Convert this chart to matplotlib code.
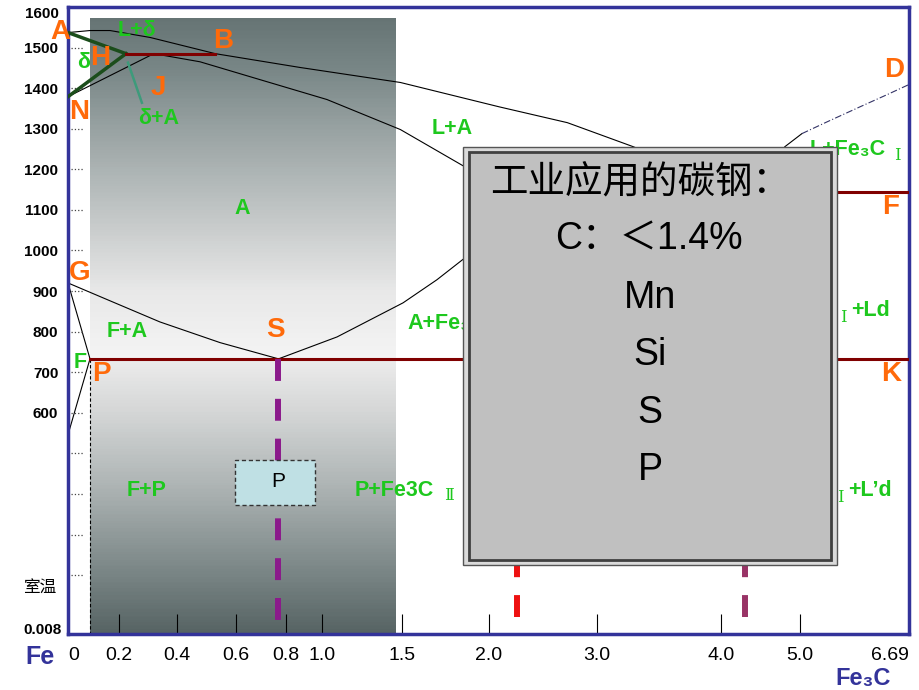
import numpy as np
import matplotlib
matplotlib.use('Agg')
import matplotlib.pyplot as plt
from matplotlib.patches import Rectangle
from matplotlib.colors import LinearSegmentedColormap
from matplotlib.transforms import blended_transform_factory

plt.rcParams['font.family'] = ['Liberation Sans', 'DejaVu Sans', 'Noto Sans CJK SC']

# the carbon axis on the slide is not to scale: tick columns
AXIS_C = [0, 0.0218, 0.2, 0.4, 0.6, 0.8, 1.0, 1.5, 2.0, 2.11, 3.0, 4.0, 5.0, 6.69]
AXIS_PX = [68, 90, 119, 177, 236, 286, 322, 402, 489, 517, 597, 721, 800, 909]

X_TICKS = [0, 0.2, 0.4, 0.6, 0.8, 1.0, 1.5, 2.0, 3.0, 4.0, 5.0, 6.69]
X_LABELS = ['0', '0.2', '0.4', '0.6', '0.8', '1.0', '1.5', '2.0', '3.0', '4.0', '5.0', '6.69']
Y_TICKS = [1500, 1400, 1300, 1200, 1100, 1000, 900, 800, 700, 600]
Y_DOTS = [1500, 1400, 1300, 1200, 1100, 1000, 900, 800, 700, 600, 500, 400, 300, 200]

# phase lines (C %, T)
liq_c = [0, 0.0218, 0.145, 0.307, 0.53, 0.878, 1.49, 2.04, 2.67, 3.29, 4.3, 4.81, 5.03]
liq_t = [1537, 1542, 1542, 1525, 1485, 1451, 1414, 1354, 1315, 1256, 1145, 1256, 1288]
cd_c = [5.03, 5.42, 5.93, 6.35, 6.69]
cd_t = [1288, 1317, 1354, 1384, 1409]
ah_c, ah_t = [0, 0.224], [1537, 1485]
nh_c, nh_t = [0, 0.224], [1379, 1485]
nj_c, nj_t = [0, 0.32], [1379, 1485]
je_c = [0.32, 0.478, 0.696, 1.031, 1.49, 1.862, 2.11]
je_t = [1485, 1465, 1421, 1372, 1298, 1206, 1145]
hjb_c, hjb_t = [0.224, 0.53], [1485, 1485]
gs_c = [0, 0.145, 0.341, 0.546, 0.77]
gs_t = [920, 876, 824, 773, 733]
gp_c, gp_t = [0, 0.0218], [920, 733]
pq_c, pq_t = [0.0218, 0], [733, 546]
es_c = [0.77, 1.094, 1.506, 1.701, 1.862, 2.11]
es_t = [733, 787, 871, 928, 982, 1145]
psk_c, psk_t = [0.0218, 6.69], [733, 733]
ecf_c, ecf_t = [2.11, 6.69], [1145, 1145]
ptr_c, ptr_t = [0.231, 0.279], [1463, 1364]

S_C, S_T = 0.77, [733, 82]
E_C, C_C, EC_T = 2.11, 4.3, [97, 1145]
P_C, P_T = 0.0218, [733, 55]

SHADE_C = [0.0218, 1.46]
SHADE_T = [55, 1574]
shade_stops = [(55, '#566363'), (200, '#788484'), (400, '#a9b0b0'), (600, '#d4d6d6'),
               (733, '#ececec'), (733.5, '#f4f4f4'), (900, '#e8e8e8'), (1000, '#d4d6d6'),
               (1150, '#b6bcbc'), (1300, '#98a2a2'), (1450, '#788686'), (1574, '#667474')]

BOX_LINES = ['工业应用的碳钢：', 'C：＜1.4%', 'Mn', 'Si', 'S', 'P']

ORANGE = '#ff6a0a'
GREEN = '#1ec81e'
BLUE = '#33339a'
DARKRED = '#800000'

fig = plt.figure(figsize=(9.2, 6.9), dpi=100)
ax = fig.add_axes([68 / 920, 1 - 634 / 690, 841 / 920, 627 / 690])

fwd = lambda c: np.interp(c, AXIS_C, AXIS_PX)
inv = lambda p: np.interp(p, AXIS_PX, AXIS_C)
ax.set_xscale('function', functions=(fwd, inv))
ax.set_xlim(0, 6.69)
ax.set_ylim(55, 1600)


def at(x, y):
    return x / 920, 1 - y / 690


def label(x, y, s, color, size, ha='center', weight='bold', **kw):
    ax.text(*at(x, y), s, transform=fig.transFigure, ha=ha, va='center',
            color=color, fontsize=size, fontweight=weight, **kw)


# gradient band
lo, hi = SHADE_T
cmap = LinearSegmentedColormap.from_list(
    'band', [((t - lo) / (hi - lo), c) for t, c in shade_stops])
ty = np.linspace(lo, hi, 401)
mid = (ty[:-1] + ty[1:]) / 2
ax.pcolormesh(SHADE_C, ty, mid[:, None], cmap=cmap, vmin=lo, vmax=hi,
              shading='flat', antialiased=False, zorder=0.5, rasterized=True)

thin = dict(color='black', lw=0.8, zorder=2)
ax.plot(liq_c, liq_t, **thin)
ax.plot(cd_c, cd_t, color='#333366', lw=0.8, ls=(0, (6, 2, 1, 2)), zorder=2)
ax.plot(nj_c, nj_t, **thin)
ax.plot(je_c, je_t, **thin)
ax.plot(gs_c, gs_t, **thin)
ax.plot(gp_c, gp_t, **thin)
ax.plot(pq_c, pq_t, **thin)
ax.plot(es_c, es_t, **thin)
ax.plot([P_C, P_C], P_T, color='black', lw=0.8, ls=(0, (3, 2)), zorder=2)
ax.plot(ah_c, ah_t, color='#1b4d1b', lw=2.5, zorder=3)
ax.plot(nh_c, nh_t, color='#1b4d1b', lw=2.5, zorder=3)
ax.plot(ptr_c, ptr_t, color='#3d9b7b', lw=1.8, zorder=3)
ax.plot(hjb_c, hjb_t, color=DARKRED, lw=2.2, zorder=3)
ax.plot(psk_c, psk_t, color=DARKRED, lw=2.2, zorder=3)
ax.plot(ecf_c, ecf_t, color=DARKRED, lw=2.2, zorder=3)

dash = (0, (3.67, 3.0))
ax.plot([S_C, S_C], S_T, color='#8b1a8b', lw=4.3, ls=dash, zorder=3)
ax.plot([E_C, E_C], EC_T, color='#ee1111', lw=4.3, ls=dash, zorder=3)
ax.plot([C_C, C_C], EC_T, color='#993366', lw=4.3, ls=dash, zorder=3)

# pearlite tag
ax.add_patch(Rectangle((0.596, 373), 0.961 - 0.596, 484 - 373, facecolor='#bfe0e4',
                       edgecolor='#333333', lw=1, ls=(0, (3, 2)), zorder=4))
ax.text(0.77, 430, 'P', ha='center', va='center', fontsize=15, zorder=5)

# axes frame and ticks
for sp in ax.spines.values():
    sp.set_color(BLUE)
    sp.set_linewidth(2.5)
ax.xaxis.remove_overlapping_locs = False
ax.set_xticks(X_TICKS, X_LABELS)
ax.set_xticks(X_TICKS[1:-1], minor=True)
ax.tick_params(axis='x', which='major', length=0, pad=9, labelsize=14)
ax.tick_params(axis='x', which='minor', direction='in', length=14.4, width=0.8,
               color='black')
xl = ax.get_xticklabels()
xl[0].set_ha('left')
xl[-1].set_ha('right')
ax.set_yticks(Y_TICKS, [str(v) for v in Y_TICKS], fontweight='bold')
ax.tick_params(axis='y', length=0, pad=7, labelsize=11)
bt = blended_transform_factory(ax.transAxes, ax.transData)
ax.hlines(Y_DOTS, 0.003, 0.018, transform=bt, colors='#444444', lw=0.9,
          linestyles=':', zorder=2)

label(59, 14, '1600', 'black', 11, ha='right')
label(40, 587, '室温', 'black', 12, weight='normal', family=['Noto Sans CJK SC'])
label(62, 630, '0.008', 'black', 11, ha='right')
label(40, 657, 'Fe', BLUE, 18)
label(863, 679, 'Fe₃C', BLUE, 17)

# point letters
for x, y, s in [(60, 32, 'A'), (223, 41, 'B'), (100, 58, 'H'), (158, 88, 'J'),
                (79, 112, 'N'), (80, 273, 'G'), (101, 374, 'P'), (275, 330, 'S'),
                (894, 70, 'D'), (891, 207, 'F'), (891, 374, 'K')]:
    label(x, y, s, ORANGE, 20)

# phase regions
for x, y, s in [(137, 31, 'L+δ'), (84, 62, 'δ'), (159, 118, 'δ+A'), (452, 128, 'L+A'),
                (242, 208, 'A'), (127, 331, 'F+A'), (80, 363, 'F'), (147, 490, 'F+P')]:
    label(x, y, s, GREEN, 15.5)
label(407, 323, 'A+Fe₃C', GREEN, 15.5, ha='left')
label(355, 490, 'P+Fe3C', GREEN, 15.5, ha='left')
label(810, 150, 'L+Fe₃C', GREEN, 15.5, ha='left')
label(851, 310, '+Ld', GREEN, 15.5, ha='left')
label(848, 490, '+L’d', GREEN, 15.5, ha='left')
roman = dict(weight='normal', family=['DejaVu Serif', 'DejaVu Sans'])
label(449, 495, 'Ⅱ', GREEN, 12, **roman)
label(897, 156, 'Ⅰ', GREEN, 12, **roman)
label(843, 317, 'Ⅰ', GREEN, 12, **roman)
label(840, 497, 'Ⅰ', GREEN, 12, **roman)

# the note box on top of the diagram
x0, y0 = at(463, 565)
fig.add_artist(Rectangle((x0, y0), (837 - 463) / 920, (565 - 147) / 690,
                         transform=fig.transFigure, facecolor='#dadada',
                         edgecolor='#555555', lw=1, zorder=10))
x1, y1 = at(469, 560)
fig.add_artist(Rectangle((x1, y1), (831 - 469) / 920, (560 - 152) / 690,
                         transform=fig.transFigure, facecolor='#c0c0c0',
                         edgecolor='#404040', lw=2, zorder=11))
for (x, y), s in zip([(640, 183), (649, 240), (650, 298), (650, 355), (650, 413), (650, 470)],
                     BOX_LINES):
    fam = ['Noto Sans CJK SC'] if s == BOX_LINES[0] else ['Liberation Sans', 'Noto Sans CJK SC']
    fig.text(*at(x, y), s, ha='center', va='center', fontsize=27, family=fam, zorder=12)

fig.savefig('out.png', dpi=100, facecolor='white')
